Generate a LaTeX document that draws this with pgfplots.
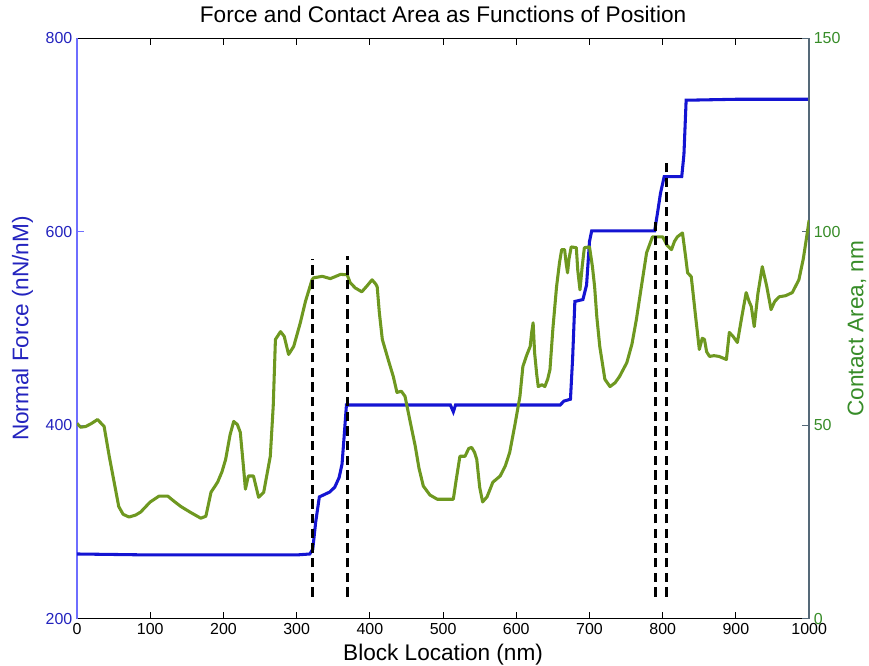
\documentclass[border=0pt]{standalone}
\usepackage{fontspec}
\setmainfont{Liberation Sans}
\usepackage{pgfplots}
\pgfplotsset{compat=1.18}

\definecolor{forceblue}{RGB}{20,20,210}
\definecolor{forcetext}{RGB}{35,35,190}
\definecolor{forceaxis}{RGB}{110,110,255}
\definecolor{areagreen}{RGB}{110,152,32}
\definecolor{areatext}{RGB}{55,140,40}
\definecolor{areaaxis}{RGB}{85,105,120}

\pgfplotsset{
  twin/.style={
    width=550.5pt, height=436.5pt, scale only axis,
    xmin=0, xmax=1000,
    /pgf/number format/assume math mode=true,
    /pgf/number format/1000 sep={},
    tick align=inside, major tick length=5pt,
    tick label style={font=\fontsize{12}{14}\selectfont},
    label style={font=\fontsize{17}{20}\selectfont},
  },
  marker/.style={black, line width=2pt, dash pattern=on 7pt off 4pt},
}

\begin{document}
\begin{tikzpicture}
% left axis: normal force
\begin{axis}[twin,
  ymin=200, ymax=800,
  axis y line*=left,
  xtick={0,100,...,1000},
  ytick={200,400,600,800},
  x axis line style={black, line width=0.8pt},
  y axis line style={forceaxis, line width=1pt},
  x tick style={black, line width=0.8pt},
  y tick style={forceaxis, line width=0.8pt},
  y tick label style={forcetext},
  title={Force and Contact Area as Functions of Position},
  title style={font=\fontsize{17}{20}\selectfont, at={(axis description cs:0.5,1)}, anchor=base, yshift=6pt, inner ysep=4.5pt},
  xlabel={Block Location (nm)},
  xlabel style={at={(axis description cs:0.5,0)}, anchor=center, yshift=-27pt, inner ysep=0.5pt},
  ylabel={Normal Force (nN/nM)},
  ylabel style={forcetext, at={(axis description cs:0,0.5)}, anchor=center, rotate=0, yshift=41pt, inner ysep=9pt},
]
\addplot[forceblue, line width=2.3pt] coordinates {
(0,267) (100,266) (200,266) (300,266) (318,267) (322,272) (326,300) (331,326)
(345,331) (352,336) (358,346) (362,360) (365,390) (368,421) (450,421) (510,421)
(514,414) (517,421) (600,421) (660,421) (665,425) (674,427) (677,470) (680,528)
(691,530) (696,545) (700,590) (703,601) (789,601) (793,620) (797,640) (802,657)
(826,657) (829,680) (832,736) (900,737) (1000,737)
};
\end{axis}

% right axis: contact area
\begin{axis}[twin,
  ymin=0, ymax=150,
  axis y line*=right, axis x line=none,
  ytick={0,50,100,150},
  y axis line style={areaaxis, line width=1pt},
  y tick style={areaaxis, line width=0.8pt},
  y tick label style={areatext},
  ylabel={Contact Area, nm},
  ylabel style={areatext, at={(axis description cs:1,0.5)}, anchor=center, rotate=0, yshift=-36pt, inner ysep=2pt},
]
\addplot[areagreen, line width=2.3pt, line join=round] coordinates {
(0,50.5) (5,49.5) (12,49.7) (20,50.5) (28,51.5) (33,50.5) (37,49.7) (44,42)
(50,36) (57,29) (63,27) (71,26.3) (80,26.8) (87,27.6) (100,30.2) (112,31.7)
(124,31.7) (133,30.3) (142,29) (155,27.5) (169,26) (176,26.5) (183,32.7) (192,35.3)
(198,38) (203,41.2) (209,47.5) (214,51) (219,50.2) (223,48.2) (227,40) (230,33.5)
(234,36.9) (241,36.9) (248,31.4) (255,32.7) (264,42) (268,55) (271,72.2) (278,74.2)
(283,73) (289,68.3) (296,70.4) (305,76.5) (312,82) (321,87.6) (323,88.1) (335,88.5)
(346,87.9) (360,89) (369,88.9) (373,86.9) (380,85.5) (389,84.5) (396,86) (403,87.6)
(408,86.5) (410,85.8) (413,79) (417,72.2) (425,67) (432,62.6) (437,58.5) (443,58.8)
(448,57.5) (455,51) (462,44.6) (467,39) (473,34.3) (482,32) (492,30.9) (514,30.9)
(518,36) (523,42) (530,42) (535,44) (539,44.3) (543,43) (546,41.2) (550,34)
(554,30.2) (560,31.5) (568,35.3) (578,36.9) (585,39.5) (591,43) (598,50) (605,57.5)
(609,65.2) (614,68) (619,70.4) (621,74) (623,76.5) (625,68.8) (628,63) (630,60)
(635,60.5) (639,60) (643,62) (646,64.4) (650,75) (655,85.8) (659,92) (662,95.4)
(666,95.4) (668,92) (670,89.4) (672,93) (675,96.1) (682,95.9) (684,90) (687,85)
(690,91) (693,95.9) (700,96.1) (704,91) (707,85.8) (710,78) (714,70.4) (721,61.9)
(728,60) (735,61) (741,62.6) (751,66.2) (758,71) (764,77.3) (771,86) (778,94.6)
(786,98.7) (791,98.7) (800,98.7) (806,96.5) (812,95.4) (816,97.5) (820,98.7) (827,99.7)
(831,94) (834,89.4) (839,88.4) (845,78) (850,69.6) (854,72.5) (857,72.2) (860,69)
(864,67.8) (870,68) (877,67.8) (887,67) (891,74) (896,73) (902,71.4) (908,78)
(914,84.3) (918,82) (921,80.7) (925,75.5) (930,84) (936,91) (942,86) (948,79.9)
(953,82) (959,83.2) (968,83.5) (977,84.3) (986,87.6) (992,93) (996,97.9) (1000,103)
};
\end{axis}

% dashed markers on the force scale
\begin{axis}[twin, ymin=200, ymax=800, hide axis]
\addplot[marker] coordinates {(321.5,223) (321.5,572)};
\addplot[marker] coordinates {(369,223) (369,575)};
\addplot[marker] coordinates {(790,223) (790,616)};
\addplot[marker] coordinates {(805,223) (805,673)};
\end{axis}
\end{tikzpicture}
\end{document}
